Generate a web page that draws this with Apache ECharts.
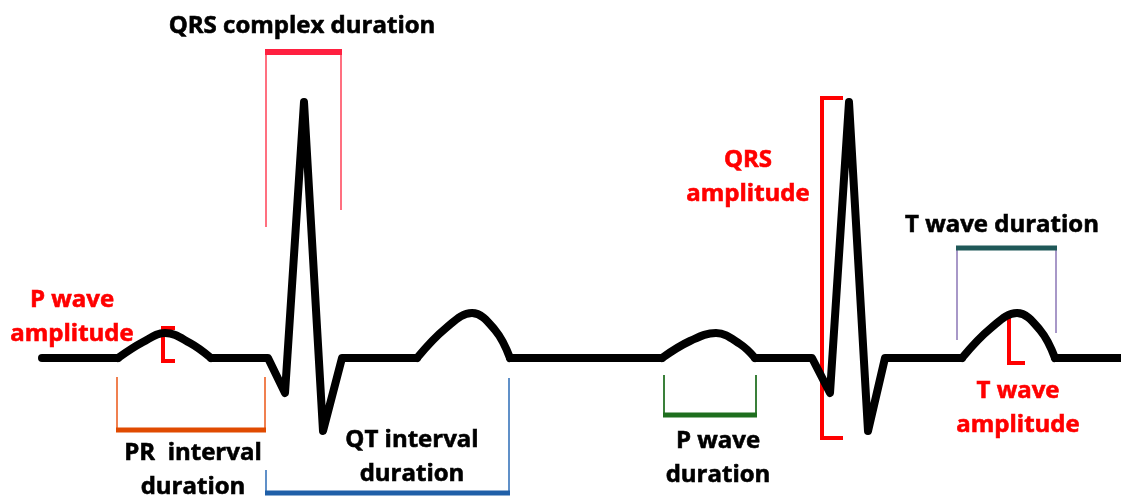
<!DOCTYPE html>
<html>
<head>
<meta charset="utf-8">
<script src="https://cdn.jsdelivr.net/npm/echarts@6/dist/echarts.min.js"></script>
<style>
  html, body { margin: 0; padding: 0; background: #fff; }
  #main { width: 1121px; height: 497px; }
</style>
</head>
<body>
<div id="main"></div>
<script>
// ECG trace, x = time units, y = amplitude (baseline = 0)
var flatStart = [[42, 0], [118, 0]];
var pWave1 = [[118, 0], [143, 16], [165, 25], [190, 15], [211, 0]];
var qrs1 = [[211, 0], [268, 0], [285, -35], [304, 256], [323, -73], [342, 0], [417, 0]];
var tWave1 = [[417, 0], [446, 30], [472, 45], [495, 28], [510, 0]];
var flatMid = [[510, 0], [662, 0]];
var pWave2 = [[662, 0], [690, 17], [716, 25], [740, 14], [755, 0]];
var qrs2 = [[755, 0], [812, 0], [830, -35], [849, 256], [868, -73], [885, 0], [962, 0]];
var tWave2 = [[962, 0], [991, 30], [1017, 45], [1040, 28], [1055, 0]];
var flatEnd = [[1055, 0], [1121, 0]];

var straightParts = [flatStart, qrs1, flatMid, qrs2, flatEnd];
var smoothParts = [pWave1, tWave1, pWave2, tWave2];

// 基线位置（像素）
var BASE = 358;
function Y(py) { return BASE - py; }

var series = [];

// 心电图曲线
straightParts.forEach(function (d) {
    series.push({
        type: 'line', data: d, symbol: 'none', silent: true,
        lineStyle: { color: '#000', width: 8, cap: 'round', join: 'round' }
    });
});
smoothParts.forEach(function (d) {
    series.push({
        type: 'line', data: d, symbol: 'none', smooth: 0.4, silent: true,
        lineStyle: { color: '#000', width: 8, cap: 'round', join: 'round' }
    });
});

// 标注括号
function seg(points, color, width) {
    series.push({
        type: 'line', symbol: 'none', silent: true, z: 1,
        data: points.map(function (p) { return [p[0], Y(p[1])]; }),
        lineStyle: { color: color, width: width, cap: 'butt', join: 'miter' }
    });
}
// QRS complex duration
seg([[266, 227], [266, 52]], '#ff7080', 2);
seg([[341, 210], [341, 52]], '#ff7080', 2);
seg([[265, 52], [342, 52]], '#ff2040', 6);
// PR interval
seg([[117, 377], [117, 430]], '#f08050', 2);
seg([[265, 377], [265, 430]], '#f08050', 2);
seg([[116, 430], [266, 430]], '#e04a00', 5);
// QT interval
seg([[266, 470], [266, 493]], '#6090c8', 2);
seg([[509, 378], [509, 493]], '#6090c8', 2);
seg([[265, 493], [510, 493]], '#1f5fa8', 5);
// P wave duration
seg([[664, 375], [664, 415]], '#3a803a', 2);
seg([[756, 375], [756, 415]], '#3a803a', 2);
seg([[663, 415], [757, 415]], '#1e6e1e', 5);
// T wave duration
seg([[957, 248], [957, 340]], '#a898c8', 2);
seg([[1056, 248], [1056, 333]], '#a898c8', 2);
seg([[956, 248], [1057, 248]], '#1f5858', 5);
// amplitude brackets
seg([[843, 98], [822, 98], [822, 438], [843, 438]], '#ff0000', 4);
seg([[175, 328], [163, 328], [163, 361], [175, 361]], '#ff0000', 4);
seg([[1025, 315], [1009, 315], [1009, 363], [1025, 363]], '#ff0000', 4);

// 文字标签
var labels = [
    { x: 302, y: 26, text: 'QRS complex duration', color: '#000' },
    { x: 193, y: 470, text: 'PR  interval\nduration', color: '#000' },
    { x: 412, y: 457, text: 'QT interval\nduration', color: '#000' },
    { x: 718, y: 458, text: 'P wave\nduration', color: '#000' },
    { x: 1002, y: 225, text: 'T wave duration', color: '#000' },
    { x: 748, y: 177, text: 'QRS\namplitude', color: '#ff0000' },
    { x: 1018, y: 408, text: 'T wave\namplitude', color: '#ff0000' },
    { x: 72, y: 317, text: 'P wave\namplitude', color: '#ff0000' }
];
series.push({
    type: 'scatter', symbolSize: 0, silent: true, z: 5,
    itemStyle: { color: 'transparent', opacity: 1 },
    data: labels.map(function (l) {
        return {
            value: [l.x, Y(l.y)],
            label: {
                show: true, position: 'inside', formatter: l.text, opacity: 1,
                color: l.color, textBorderWidth: 0.6, textBorderColor: l.color,
                fontFamily: 'Open Sans', fontWeight: 'bold',
                fontSize: 24, lineHeight: 34, align: 'center', verticalAlign: 'middle'
            }
        };
    })
});

var chart = echarts.init(document.getElementById('main'), null, { renderer: 'canvas' });
chart.setOption({
    animation: false,
    backgroundColor: '#fff',
    grid: { left: 0, right: 0, top: 0, bottom: 0 },
    xAxis: { type: 'value', min: 0, max: 1121, show: false },
    yAxis: { type: 'value', min: BASE - 497, max: BASE, show: false },
    series: series
});
</script>
</body>
</html>
